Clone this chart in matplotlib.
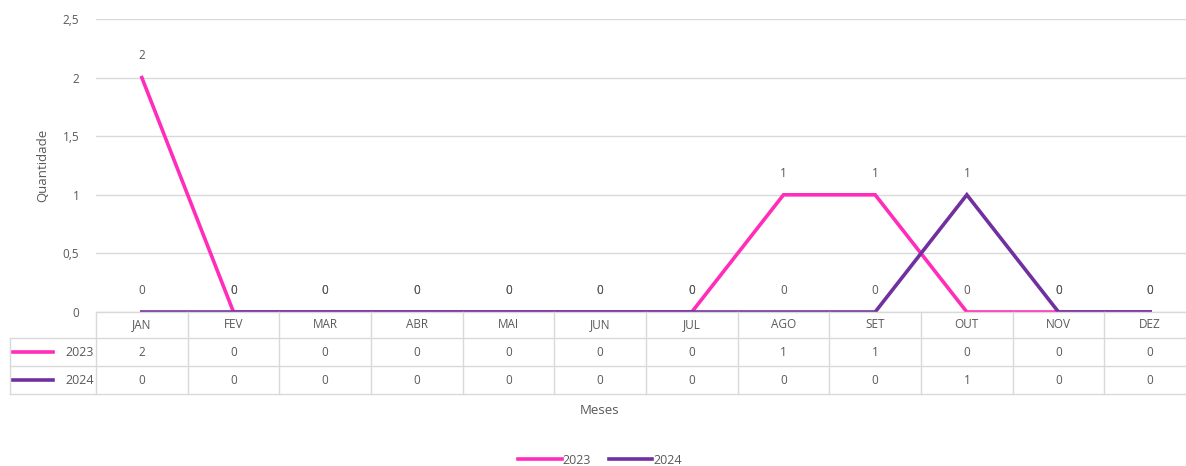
import matplotlib.pyplot as plt
from matplotlib.lines import Line2D

plt.rcParams['font.family'] = ['Open Sans', 'DejaVu Sans']

months = ["JAN", "FEV", "MAR", "ABR", "MAI", "JUN", "JUL", "AGO", "SET", "OUT", "NOV", "DEZ"]
series_names = ["2023", "2024"]
values_2023 = [2, 0, 0, 0, 0, 0, 0, 1, 1, 0, 0, 0]
values_2024 = [0, 0, 0, 0, 0, 0, 0, 0, 0, 1, 0, 0]
yticks = [0, 0.5, 1, 1.5, 2, 2.5]
ytick_labels = ["0", "0,5", "1", "1,5", "2", "2,5"]

colors = ["#FF2DB9", "#7030A0"]
text_c = "#595959"
grid_c = "#D9D9D9"

W, H = 1186, 466
fig = plt.figure(figsize=(W / 100, H / 100), dpi=100)

def frac(x0, y0, x1, y1):
    return [x0 / W, 1 - y1 / H, (x1 - x0) / W, (y1 - y0) / H]

ax = fig.add_axes(frac(96, 19, 1196, 312))
xs = list(range(len(months)))
all_series = [values_2023, values_2024]
for vals, c in zip(all_series, colors):
    ax.plot(xs, vals, color=c, lw=2.6, solid_joinstyle='miter', zorder=3)
    for x, v in zip(xs, vals):
        ax.annotate(str(v), (x, v), xytext=(0, 11), textcoords='offset points',
                    ha='center', va='bottom', fontsize=8.5, color=text_c)

ax.set_xlim(-0.5, len(months) - 0.5)
ax.set_ylim(0, 2.5)
ax.set_yticks(yticks)
ax.set_yticklabels(ytick_labels, fontsize=8.5, color=text_c)
ax.tick_params(axis='y', length=0, pad=12)
ax.set_xticks([])
ax.grid(axis='y', color=grid_c, lw=1)
ax.set_axisbelow(True)
for s in ax.spines.values():
    s.set_visible(False)
ax.set_ylabel("Quantidade", fontsize=9.5, color=text_c, labelpad=10)

# data table below the plot
tax = fig.add_axes(frac(96, 312, 1196, 394))
tax.set_xlim(-0.5, len(months) - 0.5)
tax.set_ylim(82, 0)
tax.axis('off')
rows = [0, 26, 54, 82]
left_x = -0.5 - 86 / (1100 / 12)
lkw = dict(color=grid_c, lw=1, clip_on=False)
# horizontal lines
tax.plot([-0.5, 11.5], [rows[0]] * 2, **lkw)
for r in rows[1:]:
    tax.plot([left_x, 11.5], [r, r], **lkw)
# vertical lines
for i in range(len(months) + 1):
    tax.plot([i - 0.5, i - 0.5], [rows[0], rows[-1]], **lkw)
tax.plot([left_x, left_x], [rows[1], rows[-1]], **lkw)

for i, m in enumerate(months):
    tax.text(i, (rows[0] + rows[1]) / 2, m, ha='center', va='center', fontsize=8.5, color=text_c)
for k, (vals, c, name) in enumerate(zip(all_series, colors, series_names)):
    yc = (rows[k + 1] + rows[k + 2]) / 2
    for i, v in enumerate(vals):
        tax.text(i, yc, str(v), ha='center', va='center', fontsize=8.5, color=text_c)
    tax.plot([left_x + 0.035, left_x + 0.47], [yc, yc], color=c, lw=2.6, clip_on=False)
    tax.text(-0.52, yc, name, ha='right', va='center', fontsize=9, color=text_c)

fig.text(600 / W, 1 - 410 / H, "Meses", ha='center', va='center', fontsize=9.5, color=text_c)

handles = [Line2D([0], [0], color=c, lw=2.6) for c in colors]
fig.legend(handles, series_names, loc='center', bbox_to_anchor=(600 / W, 1 - 460 / H),
           ncol=2, frameon=False, fontsize=9, labelcolor=text_c,
           handlelength=3.5, handletextpad=0.1, columnspacing=1.4)

fig.savefig("out.png", dpi=100, facecolor='white')
